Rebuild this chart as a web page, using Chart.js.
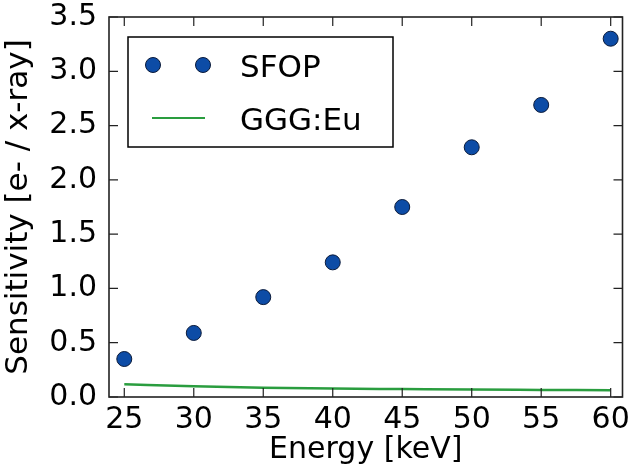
<!DOCTYPE html>
<html>
<head>
<meta charset="utf-8">
<script src="https://cdn.jsdelivr.net/npm/chart.js@4"></script>
<style>
  body { margin: 0; background: #fff; }
  #wrap { width: 631px; height: 470px; }
</style>
</head>
<body>
<div id="wrap"><canvas id="sensChart" width="631" height="470"></canvas></div>
<script>
// values
const energies = [25, 30, 35, 40, 45, 50, 55, 60];
const sfop = [0.35, 0.59, 0.92, 1.24, 1.75, 2.30, 2.69, 3.30];
const gggEu = [0.117, 0.098, 0.086, 0.078, 0.073, 0.068, 0.065, 0.062];
const xTicks = [25, 30, 35, 40, 45, 50, 55, 60];
const yTicks = [0, 0.5, 1.0, 1.5, 2.0, 2.5, 3.0, 3.5];

const FONT = 'DejaVu Sans';
const markerFill = '#0d4ca6';
const lineGreen = '#2a9d3f';

// frame with inward ticks, matplotlib style
const framePlugin = {
    id: 'frame',
    afterDatasetsDraw(chart) {
        const ctx = chart.ctx;
        const a = chart.chartArea;
        const tl = 9;
        ctx.save();
        ctx.strokeStyle = '#222';
        ctx.lineWidth = 1.6;
        ctx.strokeRect(a.left, a.top, a.right - a.left, a.bottom - a.top);
        ctx.lineWidth = 1.2;
        ctx.beginPath();
        xTicks.forEach(v => {
            const px = chart.scales.x.getPixelForValue(v);
            ctx.moveTo(px, a.bottom); ctx.lineTo(px, a.bottom - tl);
            ctx.moveTo(px, a.top); ctx.lineTo(px, a.top + tl);
        });
        yTicks.forEach(v => {
            const py = chart.scales.y.getPixelForValue(v);
            ctx.moveTo(a.left, py); ctx.lineTo(a.left + tl, py);
            ctx.moveTo(a.right, py); ctx.lineTo(a.right - tl, py);
        });
        ctx.stroke();
        ctx.restore();
    }
};

// legend box inside the plot, upper left
const boxLegend = {
    id: 'boxLegend',
    afterDraw(chart) {
        const ctx = chart.ctx;
        const x0 = 128, y0 = 37, w = 265, h = 110;
        ctx.save();
        ctx.fillStyle = '#fff';
        ctx.fillRect(x0, y0, w, h);
        ctx.strokeStyle = '#000';
        ctx.lineWidth = 1.5;
        ctx.strokeRect(x0, y0, w, h);

        // SFOP entry
        [153, 203].forEach(cx => {
            ctx.beginPath();
            ctx.arc(cx, 65, 7.5, 0, Math.PI * 2);
            ctx.fillStyle = markerFill;
            ctx.fill();
            ctx.lineWidth = 1;
            ctx.strokeStyle = '#0a1a3a';
            ctx.stroke();
        });
        // GGG:Eu entry
        ctx.beginPath();
        ctx.moveTo(152, 118);
        ctx.lineTo(205, 118);
        ctx.strokeStyle = lineGreen;
        ctx.lineWidth = 2;
        ctx.stroke();

        ctx.fillStyle = '#000';
        ctx.font = '31px "' + FONT + '"';
        ctx.textBaseline = 'alphabetic';
        ctx.fillText(chart.data.datasets[0].label, 240, 77);
        ctx.fillText(chart.data.datasets[1].label, 240, 130);
        ctx.restore();
    }
};

const ctx = document.getElementById('sensChart').getContext('2d');
const sensChart = new Chart(ctx, {
    type: 'scatter',
    data: {
        datasets: [
            {
                label: 'SFOP',
                data: energies.map((e, i) => ({ x: e, y: sfop[i] })),
                showLine: false,
                pointRadius: 7.5,
                pointBackgroundColor: markerFill,
                pointBorderColor: '#0a1a3a',
                pointBorderWidth: 1
            },
            {
                label: 'GGG:Eu',
                type: 'line',
                data: energies.map((e, i) => ({ x: e, y: gggEu[i] })),
                borderColor: lineGreen,
                borderWidth: 2.5,
                pointRadius: 0,
                fill: false,
                cubicInterpolationMode: 'monotone'
            }
        ]
    },
    options: {
        responsive: false,
        animation: false,
        layout: { padding: { top: 17, right: 2, left: 0, bottom: 0 } },
        plugins: {
            legend: { display: false },
            tooltip: { enabled: false }
        },
        scales: {
            x: {
                type: 'linear',
                min: 23.9,
                max: 60.85,
                grid: { display: false, drawTicks: false },
                border: { display: false },
                afterBuildTicks: s => { s.ticks = xTicks.map(v => ({ value: v })); },
                afterFit: s => { s.height = 73; s.paddingLeft = 0; s.paddingRight = 0; },
                ticks: {
                    color: '#000',
                    font: { family: FONT, size: 30 },
                    padding: 5,
                    maxRotation: 0,
                    autoSkip: false
                },
                title: {
                    display: true,
                    text: 'Energy [keV]',
                    color: '#000',
                    font: { family: FONT, size: 30 },
                    padding: { top: 0, bottom: 2 }
                }
            },
            y: {
                min: 0,
                max: 3.5,
                grid: { display: false, drawTicks: false },
                border: { display: false },
                afterBuildTicks: s => { s.ticks = yTicks.map(v => ({ value: v })); },
                afterFit: s => { s.width = 109; s.paddingTop = 0; s.paddingBottom = 0; },
                ticks: {
                    color: '#000',
                    font: { family: FONT, size: 30 },
                    padding: 12,
                    callback: v => v.toFixed(1)
                },
                title: {
                    display: true,
                    text: 'Sensitivity [e- / x-ray]',
                    color: '#000',
                    font: { family: FONT, size: 31 },
                    padding: { top: 0, bottom: 0 }
                }
            }
        }
    },
    plugins: [framePlugin, boxLegend]
});
</script>
</body>
</html>
